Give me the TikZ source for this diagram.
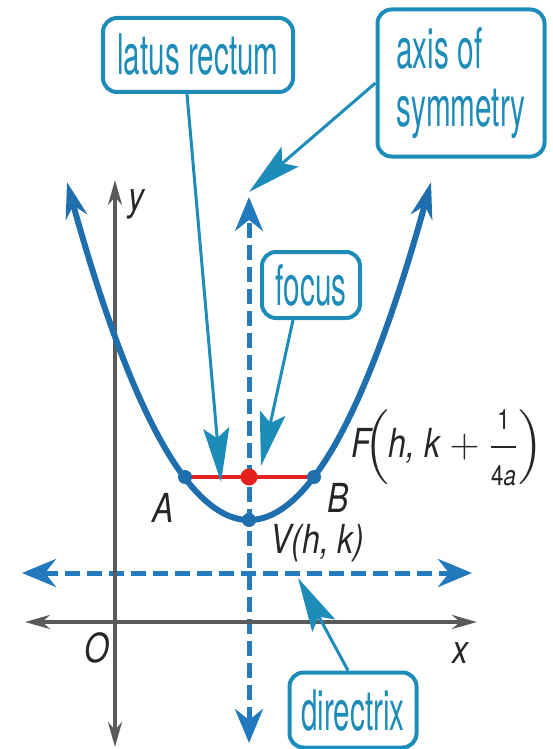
\documentclass[tikz,border=0pt]{standalone}
\usepackage{amsmath}
\usepackage{fontspec}
\setmainfont{TeX Gyre Heros}
\newfontfamily\calloutfont[FakeStretch=0.53]{TeX Gyre Heros}
\newfontfamily\labelfont[FakeStretch=0.8]{TeX Gyre Heros}
\usetikzlibrary{arrows.meta, positioning}
\definecolor{curveblue}{HTML}{1F6FAE}
\definecolor{dashblue}{HTML}{2279BC}
\definecolor{callteal}{HTML}{1E8CB8}
\definecolor{axisgray}{HTML}{5A5A5A}
\definecolor{latusred}{HTML}{E3211F}
\tikzset{
  callout/.style={
    rectangle, rounded corners=7pt,
    draw=callteal, line width=2pt, fill=white,
    text=callteal, align=left, inner sep=0pt,
    font=\calloutfont\fontsize{28}{29}\selectfont,
  },
  leader/.style={-{Stealth[length=27pt, width=13pt, inset=5pt]}, draw=callteal, line width=1.5pt},
  dashline/.style={
    {Stealth[length=17pt, width=14pt]}-{Stealth[length=17pt, width=14pt]},
    draw=dashblue, line width=2.5pt, dash pattern=on 7.5pt off 3.5pt,
  },
  coordaxis/.style={{Stealth[length=12.5pt, width=7pt]}-{Stealth[length=12.5pt, width=7pt]}, draw=axisgray, line width=2pt},
  curve/.style={{Stealth[length=18pt, width=11pt]}-{Stealth[length=18pt, width=11pt]}, draw=curveblue, line width=3pt},
  lab/.style={font=\labelfont\itshape\fontsize{20}{22}\selectfont, text=black!85, inner sep=0pt},
  dot/.style={circle, fill=curveblue, minimum size=7pt, inner sep=0pt},
}
\newcommand{\fracpart}[1]{\text{\fontsize{14}{14}\selectfont #1}}

\begin{document}
\begin{tikzpicture}[x=0.5pt, y=-0.5pt]
  \useasboundingbox (0,0) rectangle (552,749);

  % Key points
  \coordinate (V) at (249,520);
  \coordinate (A) at (185,477);
  \coordinate (B) at (314,477);
  \coordinate (F) at (249,477);

  % Axis of symmetry and directrix
  \coordinate (symtop) at (249,197);
  \coordinate (symbot) at (249,743);
  \coordinate (dirleft) at (22,573);
  \coordinate (dirright) at (472,573);
  \draw[dashline] (symbot) -- (symtop);
  \draw[dashline] (dirleft) -- (dirright);

  % Coordinate axes
  \coordinate (xleft) at (25,622);
  \coordinate (xright) at (477,622);
  \coordinate (ybot) at (115,747);
  \coordinate (ytop) at (115,180);
  \draw[coordaxis] (xleft) -- (xright);
  \draw[coordaxis] (ybot) -- (ytop);
  \node[lab] (ylab) at (136,204) {y};
  \node[lab] (xlab) at (460,653) {x};
  \node[lab] (olab) at (97,648) {O};

  % Parabola
  \draw[curve] plot[domain=-18.2:18.2, samples=80, smooth] ({249+10*\x},{520-1.02*(\x)^2});

  % Latus rectum
  \draw[latusred, line width=2pt] (A) -- (B);
  \node[dot] (Adot) at (A) {};
  \node[dot] (Bdot) at (B) {};
  \node[dot] (Vdot) at (V) {};
  \node[dot, fill=latusred, minimum size=8.5pt] (Fdot) at (F) {};

  \node[lab] (Alab) at (163,508) {A};
  \node[lab] (Blab) at (338,498) {B};
  \node[lab, anchor=west] (Vlab) at (270,543) {V(h, k)};
  \node[lab, anchor=west] (Flab) at (351,448)
    {F$\!\left(\text{h, k}+\dfrac{\fracpart{\upshape 1}}{\fracpart{\upshape 4\itshape a}}\right)$};

  % Callouts
  \node[callout, minimum width=95pt, minimum height=37pt, align=center] (latrec) at (198,55) {latus rectum};
  \node[callout, minimum width=83.5pt, minimum height=73.5pt] (axisbox) at (461,83) {axis of\\symmetry};
  \node[callout, minimum width=49pt, minimum height=33pt, align=center] (focusbox) at (311,285) {focus};
  \node[callout, minimum width=63.5pt, minimum height=37.5pt, align=center] (dirbox) at (353,710) {directrix};

  \coordinate (lattip) at (221,482);
  \coordinate (axistip) at (249,192);
  \coordinate (focustip) at (261,466);
  \coordinate (dirtip) at (298,578);

  \draw[leader] ([xshift=-5.5pt]latrec.south) -- (lattip);
  \draw[leader] (axisbox.west) -- (axistip);
  \draw[leader] ([xshift=-9pt]focusbox.south) -- (focustip);
  \draw[leader] ([xshift=-2.5pt]dirbox.north) -- (dirtip);

\end{tikzpicture}
\end{document}
